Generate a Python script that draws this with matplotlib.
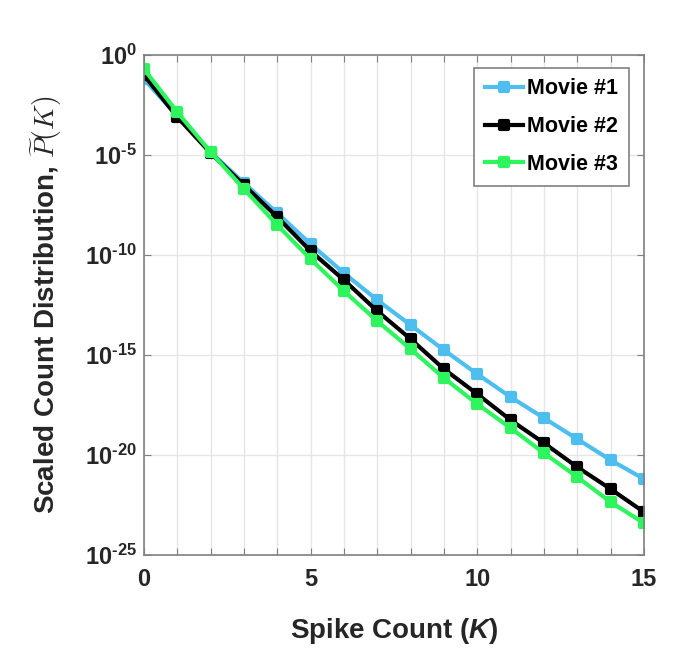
import numpy as np
import matplotlib
matplotlib.use('Agg')
import matplotlib.pyplot as plt
from matplotlib.ticker import FuncFormatter
from matplotlib.markers import MarkerStyle

plt.rcParams['font.family'] = ['Liberation Sans', 'DejaVu Sans']
plt.rcParams['font.weight'] = 'bold'
plt.rcParams['mathtext.fontset'] = 'custom'
plt.rcParams['mathtext.rm'] = 'Liberation Sans:bold'
plt.rcParams['mathtext.bf'] = 'Liberation Sans:bold'
plt.rcParams['mathtext.it'] = 'Liberation Sans:italic:bold'

# spike counts and log10 of the scaled count distribution
K = list(range(16))
log_movie1 = [-1.2, -3.05, -4.85, -6.4, -7.9, -9.45, -10.9, -12.25, -13.5, -14.75,
              -15.95, -17.1, -18.15, -19.2, -20.25, -21.2]
log_movie2 = [-1.0, -3.1, -4.9, -6.5, -8.1, -9.8, -11.25, -12.8, -14.2, -15.7,
              -16.95, -18.25, -19.4, -20.6, -21.7, -22.85]
log_movie3 = [-0.7, -2.85, -4.85, -6.7, -8.5, -10.2, -11.8, -13.3, -14.7, -16.15,
              -17.45, -18.65, -19.9, -21.1, -22.35, -23.4]
labels = ['Movie #1', 'Movie #2', 'Movie #3']
colors = ['#4DBEEE', '#000000', '#2EF55E']

y_exps = [0, -5, -10, -15, -20, -25]
x_labelled = [0, 5, 10, 15]


def fmt_pow(v, p):
    e = int(round(np.log10(v)))
    if e < 0:
        return r'$\mathbf{10^{\text{-}%d}}$' % (-e)
    return r'$\mathbf{10^{%d}}$' % e


fig = plt.figure(figsize=(6.84, 6.72), dpi=100)
ax = fig.add_axes([0.2105, 0.174, 0.731, 0.744])

sq = MarkerStyle('s', joinstyle='round')
for vals, lab, c in zip([log_movie1, log_movie2, log_movie3], labels, colors):
    ax.semilogy(K, 10.0 ** np.array(vals), '-', marker=sq, color=c, lw=3, ms=6,
                mew=3, mec=c, mfc=c, label=lab, solid_joinstyle='round')

ax.set_xlim(0, 15)
ax.set_ylim(1e-25, 1e0)
ax.set_xticks(K)
ax.set_xticklabels([str(k) if k in x_labelled else '' for k in K])
ax.set_yticks([10.0 ** e for e in y_exps])
ax.yaxis.set_minor_locator(plt.NullLocator())
ax.yaxis.set_major_formatter(FuncFormatter(fmt_pow))

ax.grid(True, color='#e6e6e6', lw=1)
ax.set_axisbelow(True)
ax.tick_params(direction='in', top=True, right=True, length=5, color='#808080',
               labelsize=17, labelcolor='#262626')
ax.tick_params(axis='x', pad=9)
ax.tick_params(axis='y', pad=5)
for sp in ax.spines.values():
    sp.set_color('#808080')
    sp.set_linewidth(1.2)

ax.set_xlabel(r'Spike Count ($\mathit{K}$)', fontsize=20, fontweight='bold',
              color='#262626', labelpad=18)
ylab = ax.set_ylabel(r'Scaled Count Distribution, $\widetilde{P}(K)$', fontsize=20,
                     fontweight='bold', color='#262626', labelpad=15)
ylab.set_math_fontfamily('cm')

leg = ax.legend(loc='upper right', bbox_to_anchor=(0.97, 0.975), fontsize=15.5,
                handlelength=1.75, handletextpad=0.2, borderpad=0.5,
                labelspacing=0.78, fancybox=False, framealpha=1,
                edgecolor='#808080', borderaxespad=0)
leg.get_frame().set_linewidth(1.2)
for t in leg.get_texts():
    t.set_fontweight('bold')

fig.savefig('out.png', dpi=100)
